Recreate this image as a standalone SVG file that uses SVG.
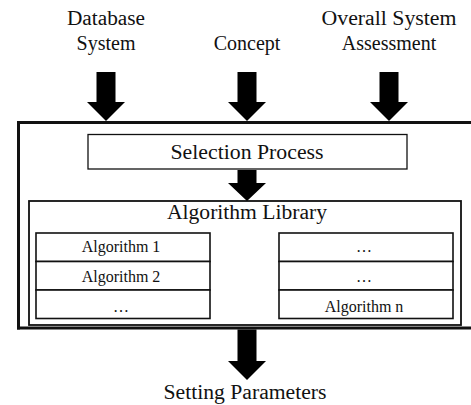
<svg xmlns="http://www.w3.org/2000/svg" width="471" height="405" viewBox="0 0 471 405">
<style>
text{font-family:"Liberation Serif",serif;fill:#111;text-anchor:middle}
.big{font-size:20px}
.sm{font-size:16px}
.box{fill:#fff;stroke:#111}
.frame{stroke:#111;stroke-width:3;fill:none}
.arrow{fill:#000}
</style>
<defs>
<path id="arr" d="M-9.5,0 H9.5 V30 H19 L0,49 L-19,30 H-9.5 Z"/>
</defs>
<rect width="471" height="405" fill="#fff"/>
<g id="input-database"><text class="big" x="106" y="25" textLength="78" lengthAdjust="spacingAndGlyphs">Database</text><text class="big" x="106" y="50">System</text></g>
<g id="input-concept"><text class="big" x="247" y="50">Concept</text></g>
<g id="input-assessment"><text class="big" x="389" y="25" textLength="135" lengthAdjust="spacingAndGlyphs">Overall System</text><text class="big" x="389" y="50">Assessment</text></g>
<g id="frame">
<line class="frame" x1="17" y1="122.5" x2="471" y2="122.5"/>
<line class="frame" x1="18.5" y1="121" x2="18.5" y2="329.5"/>
<line class="frame" x1="17" y1="328" x2="471" y2="328"/>
</g>
<g id="selection-process"><rect class="box" x="88" y="134.5" width="319" height="34.5" stroke-width="1.3"/><text class="big" x="247" y="159" textLength="153" lengthAdjust="spacingAndGlyphs">Selection Process</text></g>
<g id="algorithm-library"><rect class="box" x="29" y="201" width="432" height="124" stroke-width="1.8"/><text class="big" x="247" y="219" textLength="160" lengthAdjust="spacingAndGlyphs">Algorithm Library</text></g>
<g id="left-column">
<rect class="box" x="36" y="233" width="174" height="28.5" stroke-width="1.6"/>
<rect class="box" x="36" y="261.5" width="174" height="28.5" stroke-width="1.6"/>
<rect class="box" x="36" y="290" width="174" height="28.5" stroke-width="1.6"/>
<text class="sm" x="121" y="252">Algorithm 1</text>
<text class="sm" x="121" y="282">Algorithm 2</text>
<text class="sm" x="121" y="312">…</text>
</g>
<g id="right-column">
<rect class="box" x="279" y="233" width="174" height="28.5" stroke-width="1.6"/>
<rect class="box" x="279" y="261.5" width="174" height="28.5" stroke-width="1.6"/>
<rect class="box" x="279" y="290" width="174" height="28.5" stroke-width="1.6"/>
<text class="sm" x="364" y="252">…</text>
<text class="sm" x="364" y="282">…</text>
<text class="sm" x="364" y="312">Algorithm n</text>
</g>
<g id="output-setting"><text class="big" x="245" y="399" textLength="163" lengthAdjust="spacingAndGlyphs">Setting Parameters</text></g>
<g id="connectors" class="arrow">
<use href="#arr" transform="translate(106,72)"/>
<use href="#arr" transform="translate(247,72)"/>
<use href="#arr" transform="translate(389,72)"/>
<path d="M237.5,170 H256.5 V183 H266 L247,201 L228,183 H237.5 Z"/>
<path d="M237.5,329.5 H256.5 V361 H266 L247,380 L228,361 H237.5 Z"/>
</g>
</svg>
